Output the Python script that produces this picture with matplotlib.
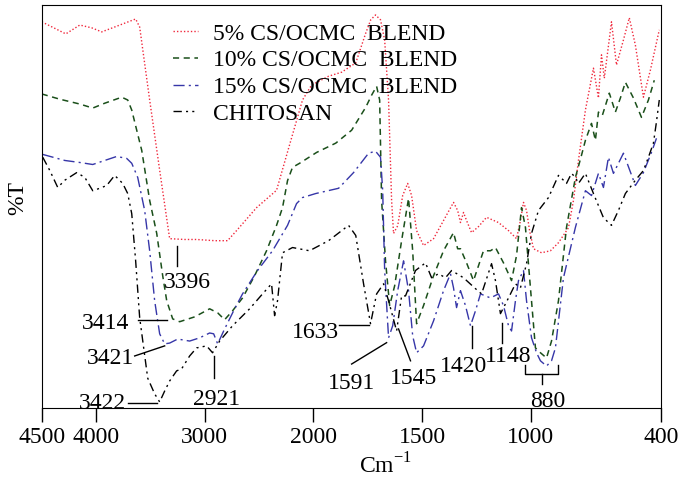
import numpy as np
import matplotlib
matplotlib.use("Agg")
import matplotlib.pyplot as plt

plt.rcParams['font.family'] = ['Liberation Serif', 'DejaVu Serif']
plt.rcParams['mathtext.fontset'] = 'custom'
plt.rcParams['mathtext.rm'] = 'Liberation Serif'

# wavenumber (cm-1) and %T (arbitrary 0-100)
wn_5 = [4500, 4389, 4279, 4150, 4040, 3948, 3801, 3636, 3599, 3507, 3415, 3323, 3185, 3075,
        2909, 2790, 2707, 2523, 2339, 2220, 2100, 2017, 1930, 1870, 1805, 1759, 1736, 1714,
        1691, 1672, 1654, 1640, 1631, 1612, 1589, 1566, 1548, 1525, 1493, 1447, 1401, 1355,
        1336, 1323, 1309, 1295, 1272, 1240, 1203, 1148, 1102, 1065, 1047, 1033, 1019, 1005,
        987, 950, 909, 872, 826, 803, 780, 748, 711, 688, 674, 661, 628, 605, 573, 546, 518,
        481, 449, 408]
t_5 = [95.8, 94.3, 92.8, 95.0, 94.3, 93.3, 94.8, 96.5, 94.5, 76.4, 59.0, 42.0, 41.8, 41.8,
       41.5, 41.5, 44.0, 49.7, 54.0, 65.2, 76.4, 80.1, 82.3, 83.3, 85.6, 93.0, 96.3, 97.5,
       96.3, 91.3, 76.4, 51.5, 43.3, 45.2, 52.7, 55.7, 52.7, 44.0, 40.3, 42.0, 46.5, 51.0,
       49.0, 46.0, 48.5, 46.5, 43.5, 45.0, 47.3, 46.0, 44.0, 42.0, 46.5, 51.0, 49.0, 44.0,
       39.5, 38.5, 39.0, 41.0, 44.7, 51.5, 61.4, 73.9, 84.3, 76.9, 87.6, 81.8, 95.8, 85.1,
       91.3, 96.8, 90.0, 77.1, 83.8, 93.8]

wn_10 = [4500, 4334, 4150, 4031, 3921, 3764, 3709, 3672, 3580, 3507, 3442, 3387, 3350, 3295,
         3231, 3093, 2955, 2881, 2817, 2744, 2652, 2541, 2431, 2339, 2284, 2238, 2192, 2127,
         1985, 1897, 1824, 1759, 1732, 1709, 1695, 1686, 1668, 1649, 1626, 1594, 1562, 1543,
         1525, 1493, 1447, 1401, 1355, 1336, 1323, 1295, 1263, 1240, 1217, 1185, 1162, 1125,
         1088, 1065, 1042, 1024, 1001, 978, 955, 927, 904, 872, 835, 794, 766, 748, 720, 702,
         688, 670, 638, 610, 587, 564, 527, 490, 458, 431]
t_10 = [77.9, 76.6, 75.4, 74.4, 75.6, 77.1, 76.4, 73.9, 63.9, 51.5, 43.3, 32.8, 26.6, 22.1,
        21.4, 22.6, 24.6, 23.6, 21.9, 24.1, 27.3, 32.8, 39.0, 45.3, 49.7, 56.4, 59.7, 60.7,
        63.4, 65.7, 68.9, 74.6, 77.6, 79.8, 76.4, 51.5, 36.5, 25.4, 30.3, 41.5, 52.0, 39.0,
        20.9, 25.4, 32.8, 39.0, 43.5, 39.5, 39.5, 36.0, 31.6, 35.3, 39.0, 39.0, 39.8, 36.0,
        31.6, 37.8, 49.7, 44.8, 29.8, 14.9, 13.7, 12.4, 16.6, 26.6, 44.8, 57.2, 62.7, 66.4,
        70.6, 66.4, 73.4, 72.6, 78.1, 73.4, 76.9, 80.8, 76.9, 72.1, 76.4, 81.3]

wn_15 = [4491, 4288, 4150, 4031, 3921, 3810, 3718, 3672, 3617, 3553, 3507, 3461, 3415, 3369,
         3323, 3249, 3139, 3047, 2955, 2918, 2881, 2817, 2725, 2652, 2514, 2376, 2238, 2155,
         2100, 1989, 1884, 1815, 1746, 1714, 1691, 1681, 1672, 1654, 1635, 1612, 1585, 1562,
         1543, 1525, 1493, 1447, 1401, 1369, 1355, 1341, 1323, 1300, 1277, 1254, 1231, 1185,
         1148, 1125, 1102, 1088, 1070, 1056, 1033, 1019, 996, 973, 955, 927, 904, 886, 849,
         794, 748, 720, 688, 665, 642, 619, 573, 518, 481, 444, 421]
t_15 = [62.9, 61.4, 60.9, 60.4, 61.4, 62.4, 61.9, 60.7, 57.2, 49.0, 39.0, 26.6, 18.4, 15.9,
        16.1, 17.1, 16.6, 17.4, 18.6, 18.4, 15.9, 19.6, 24.6, 28.3, 34.1, 39.0, 45.3, 50.7,
        52.2, 53.2, 54.5, 58.4, 63.2, 63.7, 62.2, 53.9, 34.1, 17.4, 20.4, 29.1, 36.5, 29.1,
        17.9, 13.7, 15.4, 21.6, 29.1, 33.3, 29.8, 24.9, 29.1, 25.4, 20.4, 24.1, 28.3, 27.3,
        28.3, 25.4, 20.4, 19.1, 26.6, 31.6, 34.1, 26.6, 17.4, 13.7, 11.7, 10.4, 11.7, 14.9,
        32.3, 44.8, 53.9, 52.7, 58.2, 54.7, 62.2, 58.2, 63.2, 55.2, 58.4, 63.4, 66.9]

wn_cs = [4491, 4426, 4353, 4288, 4178, 4104, 4031, 3966, 3902, 3829, 3755, 3709, 3672, 3636,
         3599, 3525, 3461, 3415, 3369, 3323, 3259, 3213, 3139, 3075, 2983, 2928, 2863, 2744,
         2587, 2468, 2385, 2357, 2330, 2284, 2192, 2036, 1930, 1838, 1805, 1769, 1737, 1709,
         1677, 1654, 1617, 1594, 1576, 1530, 1484, 1456, 1424, 1392, 1364, 1309, 1254, 1226,
         1180, 1162, 1139, 1102, 1070, 1047, 1019, 996, 964, 918, 872, 849, 835, 812, 794,
         780, 748, 711, 665, 628, 596, 564, 518, 481, 458, 435, 422, 408]
t_cs = [62.2, 58.9, 54.7, 56.5, 58.4, 57.2, 53.9, 54.5, 55.2, 57.7, 55.7, 53.2, 48.2, 36.5,
        22.4, 7.4, 3.5, 1.5, 4.2, 6.7, 9.2, 9.7, 12.9, 14.9, 15.4, 13.7, 16.6, 20.4, 24.6,
        28.3, 30.8, 22.9, 26.6, 38.5, 39.8, 39.0, 41.5, 45.3, 42.8, 30.8, 20.9, 28.3, 30.8,
        26.6, 19.1, 27.8, 27.8, 34.1, 36.0, 32.3, 33.3, 32.3, 34.1, 32.3, 29.6, 28.3, 35.8,
        31.6, 23.4, 27.3, 30.8, 29.8, 35.8, 43.3, 49.0, 52.2, 57.7, 56.5, 55.7, 58.2, 57.2,
        55.7, 58.2, 53.2, 47.2, 45.3, 49.0, 53.2, 56.5, 58.9, 62.2, 65.7, 70.6, 76.4]

labels = ['5% CS/OCMC  BLEND', '10% CS/OCMC  BLEND', '15% CS/OCMC  BLEND', 'CHITOSAN']
tick_vals = [4500, 4000, 3000, 2000, 1500, 1000, 400]


def fwd(w):
    w = np.asarray(w, dtype=float)
    return np.where(w > 2000, 2000 + (w - 2000) / 2, w)


def inv(u):
    u = np.asarray(u, dtype=float)
    return np.where(u > 2000, 2000 + (u - 2000) * 2, u)


fs = 17

fig = plt.figure(figsize=(6.85, 4.88), dpi=100)
ax = fig.add_axes([0.061, 0.164, 0.904, 0.826])
ax.set_xscale('function', functions=(fwd, inv))

ax.plot(wn_5, t_5, color='#f0283c', lw=1.0, ls=(0, (1, 1.5)), label=labels[0])
ax.plot(wn_10, t_10, color='#1a4f1a', lw=1.1, ls=(0, (4, 3)), label=labels[1])
ax.plot(wn_15, t_15, color='#3636a8', lw=1.0, ls=(0, (8, 3, 1.5, 3)), label=labels[2])
ax.plot(wn_cs, t_cs, color='black', lw=1.0, ls=(0, (6, 3, 1.5, 3, 1.5, 3)), label=labels[3])

# peak annotations: (text, text x, text y, segments)
notes = [
    ('3396', 3157, 31.1, [([3258, 3258], [40.3, 35.3])]),
    ('3414', 3911, 20.9, [([3617, 3350], [21.9, 21.9])]),
    ('3421', 3865, 12.2, [([3645, 3369], [12.9, 15.4])]),
    ('3422', 3939, 1.0, [([3709, 3442], [1.2, 1.2])]),
    ('2921', 2891, 2.2, [([2918, 2918], [12.9, 7.4])]),
    ('1633', 1989, 18.6, [([1884, 1746], [20.6, 20.6])]),
    ('1591', 1824, 6.0, [([1824, 1663], [10.9, 16.2])]),
    ('1545', 1539, 7.2, [([1608, 1553], [19.6, 11.7])]),
    ('1420', 1309, 10.4, [([1272, 1272], [20.4, 14.9])]),
    ('1148', 1102, 12.7, [([1134, 1134], [21.1, 16.1])]),
    ('880', 923, 1.7, [([1028, 1028, 872, 872], [10.7, 8.4, 8.4, 10.7]),
                       ([950, 950], [8.4, 5.9])]),
]
for txt, tx, ty, segs in notes:
    for xs, ys in segs:
        ax.plot(xs, ys, color='black', lw=1.0)
    ax.text(tx, ty, txt, ha='center', va='center', fontsize=fs)

ax.set_xlim(4500, 400)
ax.set_ylim(0, 100)
ax.set_xticks(tick_vals)
ax.set_xticklabels([str(v) for v in tick_vals], fontsize=fs)
ax.minorticks_off()
ax.set_yticks([])
ax.tick_params(axis='x', direction='out', length=10, width=1, pad=4)

ax.legend(loc='upper left', bbox_to_anchor=(0.212, 0.955), frameon=False, fontsize=fs,
          handlelength=1.05, handletextpad=0.65, labelspacing=0.22, borderpad=0,
          borderaxespad=0)

fig.text(385 / 685, 1 - 466 / 488, 'Cm$^{-1}$', ha='center', va='center', fontsize=fs)
fig.text(18 / 685, 1 - 198 / 488, '%T', ha='center', va='center', rotation=90, fontsize=fs)

fig.savefig('out.png', dpi=100)
